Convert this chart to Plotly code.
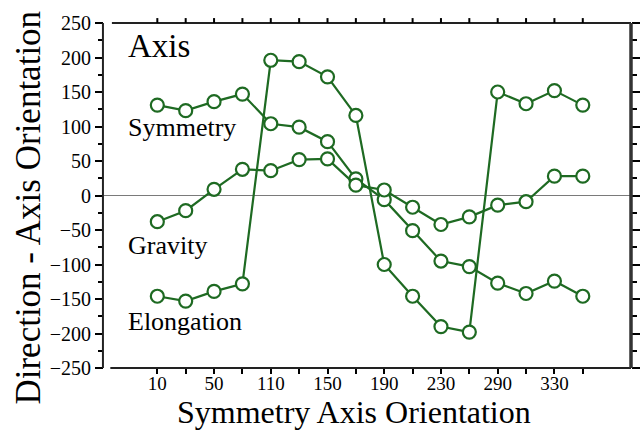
import plotly.graph_objects as go

# Sampled orientations (evenly spaced positions) and their tick labels
x_index = list(range(16))
x_ticktext = ["10", "", "50", "", "110", "", "150", "", "190", "", "230", "", "290", "", "330", ""]

# Direction minus axis orientation for each cue
symmetry = [131, 123, 136, 147, 104, 99, 78, 24, -6, -51, -95, -103, -127, -142, -124, -146]
gravity = [-38, -22, 9, 38, 36, 52, 53, 15, 8, -17, -42, -31, -14, -9, 28, 28]
elongation = [-146, -153, -139, -128, 196, 194, 172, 116, -100, -146, -190, -198, 150, 133, 152, 131]

y_tickvals = list(range(-250, 251, 50))

GREEN = "#1e6a22"
FONT = "Liberation Serif, Times New Roman, serif"
X_RANGE = [-1.88, 16.7]

fig = go.Figure()
for name, vals in [("Symmetry", symmetry), ("Gravity", gravity), ("Elongation", elongation)]:
    fig.add_trace(go.Scatter(
        x=x_index, y=vals, name=name, mode="lines+markers",
        line=dict(color=GREEN, width=2.2),
        marker=dict(symbol="circle", size=13, color="white",
                    line=dict(color=GREEN, width=2.2)),
        showlegend=False,
    ))

# Text labels inside the plot area
for text, yv, size in [("Axis", 217, 33), ("Symmetry", 98, 26),
                       ("Gravity", -73, 26), ("Elongation", -183, 26)]:
    fig.add_annotation(x=-1.1, y=yv, xref="x", yref="y", text=text,
                       showarrow=False, xanchor="left", yanchor="middle",
                       font=dict(family=FONT, size=size, color="black"))

# Axis titles
fig.add_annotation(x=0.475, y=-0.182, xref="paper", yref="paper",
                   text="Symmetry Axis Orientation", showarrow=False,
                   xanchor="center", yanchor="bottom", borderpad=0,
                   font=dict(family=FONT, size=32, color="black"))
fig.add_annotation(x=-0.143, y=0.464, xref="paper", yref="paper",
                   text="Direction - Axis Orientation", showarrow=False,
                   textangle=-90, xanchor="center", yanchor="middle",
                   font=dict(family=FONT, size=35, color="black"))

# Frame lines with small gaps at the corners
frame = dict(type="line", xref="paper", yref="paper")
fig.add_shape(**frame, x0=-0.002, x1=-0.002, y0=0, y1=1, line=dict(color="#222", width=2))
fig.add_shape(**frame, x0=0.012, x1=1, y0=0, y1=0, line=dict(color="#222", width=2))
fig.add_shape(**frame, x0=0.015, x1=1, y0=1, y1=1, line=dict(color="#222", width=2))
fig.add_shape(**frame, x0=1, x1=1, y0=0, y1=1, line=dict(color="#333", width=3.5))

# Tick marks along the top edge, one per sampled orientation (paper coordinates
# so they are not clipped to the plotting area)
span = X_RANGE[1] - X_RANGE[0]
for xi in x_index:
    px = (xi - X_RANGE[0]) / span
    fig.add_shape(**frame, x0=px, x1=px, y0=1, y1=1 + 5 / 351,
                  line=dict(color="black", width=2))

# Bottom x ticks are drawn as minor ticks so the labels sit close to the axis
fig.update_layout(
    xaxis=dict(
        range=X_RANGE, tickvals=x_index, ticktext=x_ticktext,
        ticks="", ticklabelstandoff=2,
        minor=dict(tickvals=x_index, ticks="outside", ticklen=5, tickwidth=2,
                   tickcolor="black", showgrid=False),
        showline=False, showgrid=False, zeroline=False,
        tickfont=dict(family=FONT, size=19, color="black"),
    ),
    yaxis=dict(
        range=[-250, 250], tickvals=y_tickvals,
        ticks="outside", ticklen=8, tickwidth=2, tickcolor="black",
        minor=dict(dtick=25, tick0=0, ticks="outside", ticklen=5, tickwidth=2,
                   tickcolor="black", showgrid=False),
        showline=False, mirror="ticks", showgrid=False,
        zeroline=True, zerolinecolor="#7a7a7a", zerolinewidth=1,
        tickfont=dict(family=FONT, size=20, color="black"),
    ),
    width=644, height=432,
    margin=dict(l=104, r=13, t=17, b=64),
    paper_bgcolor="white", plot_bgcolor="white",
)

fig.write_html("out.html")
